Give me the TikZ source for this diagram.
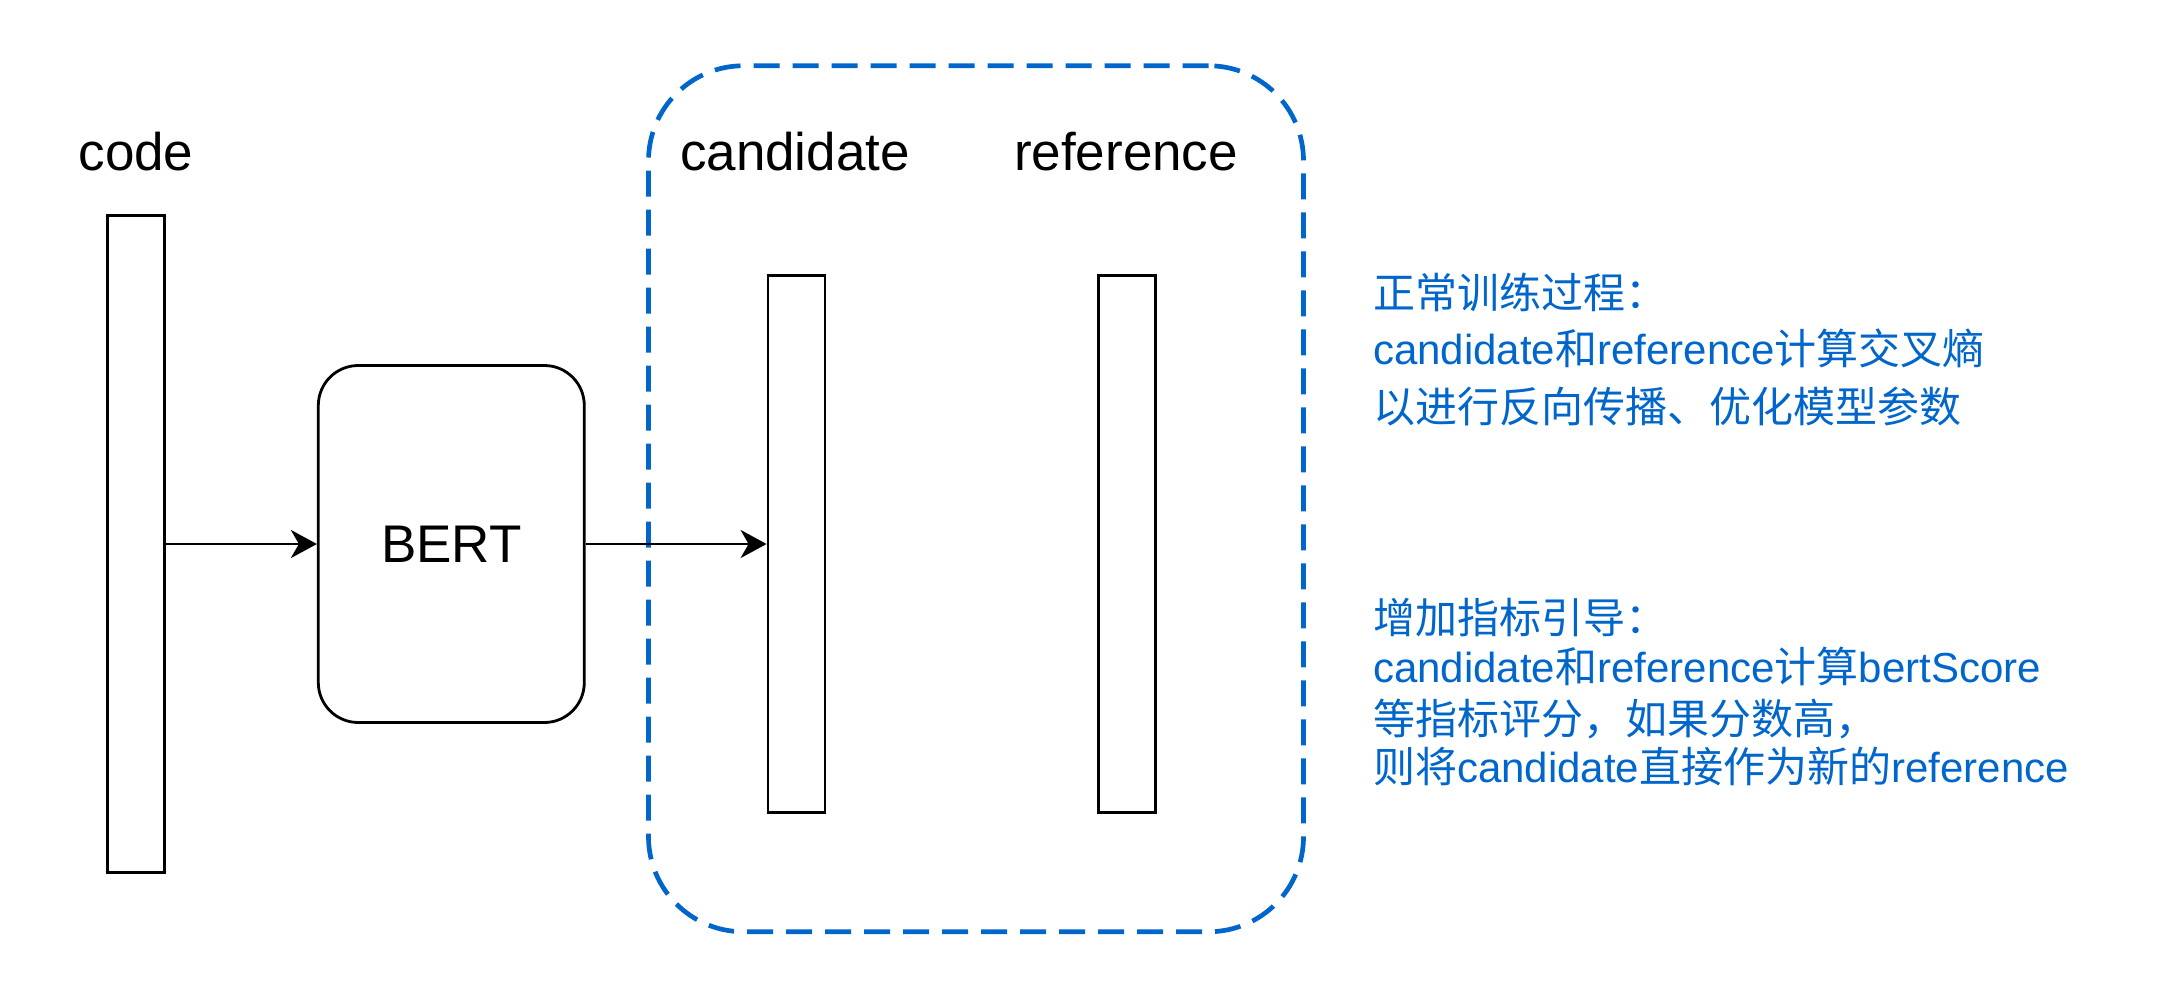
\documentclass[tikz,border=0pt]{standalone}
\usepackage{fontspec}
\setmainfont{Liberation Sans}
\newfontfamily\cjk{Noto Sans CJK SC}
\newcommand\zh[1]{{\cjk #1}}
\usetikzlibrary{arrows.meta}
\definecolor{grpblue}{HTML}{0066CC}
\begin{document}
\begin{tikzpicture}[x=1pt,y=-1pt,
  bar/.style={draw, line width=2.8pt, minimum width=57pt, inner sep=0pt},
  lbl/.style={font=\fontsize{53}{64}\selectfont, anchor=base, inner sep=0pt},
  note/.style={font=\fontsize{42}{50}\selectfont, text=grpblue, anchor=base west, inner sep=0pt},
  arr/.style={-{Stealth[length=26pt,width=28pt,inset=8pt]}, line width=2.8pt},
  group/.style={draw=grpblue, line width=4.7pt, dash pattern=on 26pt off 13pt, rounded corners=95pt, minimum width=655pt, minimum height=866pt, inner sep=0pt}
]
\useasboundingbox (0,0) rectangle (2178,996);
% group container
\node[group] (grp) at (976,498.75) {};
% bars
\node[bar, minimum height=657pt] (code) at (136,544) {};
\node[bar, minimum height=537pt] (cand) at (796.5,544) {};
\node[bar, minimum height=537pt] (ref) at (1126.7,544) {};
% BERT
\node[draw, line width=2.8pt, rounded corners=40pt, minimum width=266pt, minimum height=357pt, inner sep=0pt, font=\fontsize{53}{64}\selectfont] (bert) at (451.3,544) {BERT};
% labels
\node[lbl] (codelbl) at (136,170) {code};
\node[lbl] (candlbl) at (795,170) {candidate};
\node[lbl] (reflbl) at (1126,170) {reference};
% connectors
\draw[arr] (code.east) -- (bert.west);
\draw[arr] (bert.east) -- (cand.west);
% notes
\node[note] (n1a) at (1373,308) {\zh{正常训练过程：}};
\node[note] (n1b) at (1373,364) {candidate\zh{和}reference\zh{计算交叉熵}};
\node[note] (n1c) at (1373,422) {\zh{以进行反向传播、优化模型参数}};
\node[note] (n2a) at (1373,633) {\zh{增加指标引导：}};
\node[note] (n2b) at (1373,682) {candidate\zh{和}reference\zh{计算}bertScore};
\node[note] (n2c) at (1373,734) {\zh{等指标评分，如果分数高，}};
\node[note] (n2d) at (1373,782) {\zh{则将}candidate\zh{直接作为新的}reference};
\end{tikzpicture}
\end{document}
